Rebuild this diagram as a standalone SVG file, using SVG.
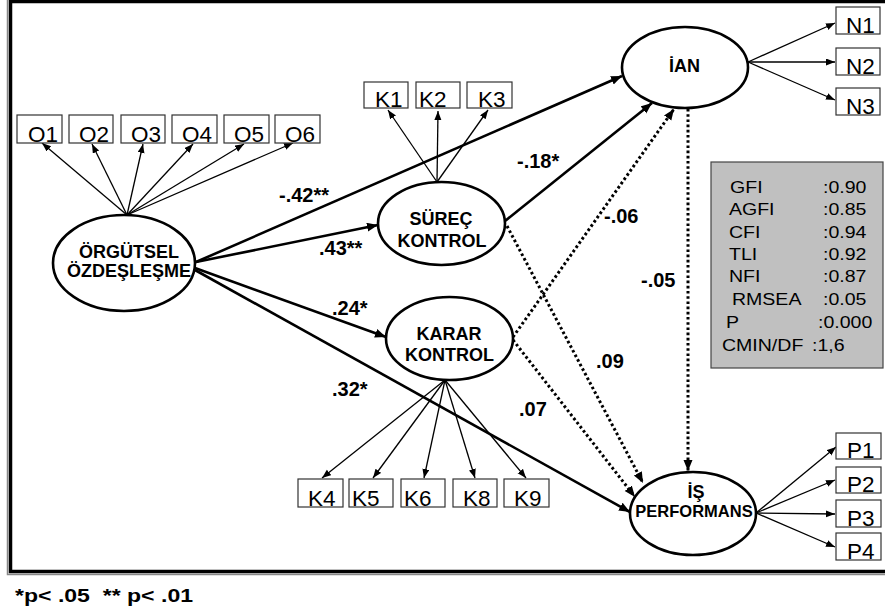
<svg xmlns="http://www.w3.org/2000/svg" width="885" height="614" viewBox="0 0 885 614">
<style>
.bx{fill:#fff;stroke:#333;stroke-width:1.2}
.bl{font-family:"Liberation Sans",Arial,sans-serif;font-size:22.5px;fill:#000}
.lv{fill:#fff;stroke:#000;stroke-width:2.6}
.lt{font-family:"Liberation Sans",Arial,sans-serif;font-weight:bold;font-size:18px;fill:#000;text-anchor:middle}
.ind{stroke:#000;stroke-width:1.3;fill:none;marker-end:url(#ah)}
.str{stroke:#000;stroke-width:2.6;fill:none}
.sa{marker-end:url(#AH)}
.dot{stroke:#000;stroke-width:3;fill:none;stroke-dasharray:2.6 2.6;marker-end:url(#AH)}
.el{font-family:"Liberation Sans",Arial,sans-serif;font-weight:bold;font-size:20px;fill:#000}
.ft{font-family:"Liberation Sans",Arial,sans-serif;font-size:17px;fill:#000}
</style>
<defs>
<marker id="ah" markerUnits="userSpaceOnUse" markerWidth="10" markerHeight="8" refX="9" refY="3.5" orient="auto"><path d="M0,0 L9,3.5 L0,7 z" fill="#000"/></marker>
<marker id="AH" markerUnits="userSpaceOnUse" markerWidth="12" markerHeight="10" refX="11" refY="4.5" orient="auto"><path d="M0,0 L11,4.5 L0,9 z" fill="#000"/></marker>
</defs>
<rect width="885" height="614" fill="#fff"/>
<g id="frame">
<path d="M7.5 0 V574.5 H900" stroke="#888" stroke-width="1.5" fill="none"/>
<path d="M900 1.5 H10.5 V571.5 H900" stroke="#000" stroke-width="3.5" fill="none"/>
</g>
<g id="connectors">
<line class="ind" x1="127" y1="215" x2="42" y2="143"/>
<line class="ind" x1="127" y1="215" x2="92" y2="144"/>
<line class="ind" x1="127" y1="215" x2="143" y2="144"/>
<line class="ind" x1="127" y1="215" x2="193" y2="144"/>
<line class="ind" x1="127" y1="215" x2="244" y2="144"/>
<line class="ind" x1="127" y1="215" x2="293" y2="143"/>
<line class="ind" x1="437" y1="182" x2="388" y2="110"/>
<line class="ind" x1="437" y1="182" x2="438" y2="111"/>
<line class="ind" x1="437" y1="182" x2="488" y2="110"/>
<line class="ind" x1="445" y1="380" x2="322" y2="478"/>
<line class="ind" x1="445" y1="380" x2="373" y2="478"/>
<line class="ind" x1="445" y1="380" x2="424" y2="478"/>
<line class="ind" x1="445" y1="380" x2="475" y2="478"/>
<line class="ind" x1="445" y1="380" x2="526" y2="478"/>
<line class="ind" x1="748" y1="62" x2="835" y2="23"/>
<line class="ind" x1="748" y1="62" x2="835" y2="62"/>
<line class="ind" x1="748" y1="62" x2="835" y2="100"/>
<line class="ind" x1="756" y1="513" x2="836" y2="447"/>
<line class="ind" x1="756" y1="513" x2="835" y2="480"/>
<line class="ind" x1="756" y1="513" x2="835" y2="514"/>
<line class="ind" x1="756" y1="513" x2="835" y2="547"/>
<line class="str sa" x1="196" y1="262" x2="622" y2="76"/>
<line class="str sa" x1="196" y1="262" x2="378" y2="225"/>
<line class="str sa" x1="195" y1="268" x2="386" y2="337"/>
<line class="str sa" x1="195" y1="270" x2="630" y2="512"/>
<line class="str sa" x1="505" y1="221" x2="652" y2="103"/>
<line class="dot" x1="507" y1="226" x2="643" y2="483"/>
<line class="dot" x1="513" y1="337" x2="674" y2="109"/>
<line class="dot" x1="513" y1="340" x2="635" y2="497"/>
<line class="dot" x1="688" y1="109" x2="688" y2="471"/>
</g>
<g id="O1"><rect class="bx" x="17" y="115" width="45" height="28"/><text class="bl" x="28" y="141.5">O1</text></g>
<g id="O2"><rect class="bx" x="69" y="115" width="44" height="28"/><text class="bl" x="79" y="141.5">O2</text></g>
<g id="O3"><rect class="bx" x="121" y="115" width="44" height="28"/><text class="bl" x="131" y="141.5">O3</text></g>
<g id="O4"><rect class="bx" x="172" y="115" width="45" height="28"/><text class="bl" x="182" y="141.5">O4</text></g>
<g id="O5"><rect class="bx" x="224" y="115" width="45" height="28"/><text class="bl" x="234" y="141.5">O5</text></g>
<g id="O6"><rect class="bx" x="275" y="115" width="45" height="28"/><text class="bl" x="285" y="141.5">O6</text></g>
<g id="K1"><rect class="bx" x="364" y="82" width="44" height="26"/><text class="bl" x="375" y="106.5">K1</text></g>
<g id="K2"><rect class="bx" x="416" y="82" width="44" height="26"/><text class="bl" x="419" y="106.5">K2</text></g>
<g id="K3"><rect class="bx" x="467" y="82" width="45" height="26"/><text class="bl" x="478" y="106.5">K3</text></g>
<g id="K4"><rect class="bx" x="298" y="479" width="45" height="28"/><text class="bl" x="308" y="505.5">K4</text></g>
<g id="K5"><rect class="bx" x="349" y="479" width="44" height="28"/><text class="bl" x="352" y="505.5">K5</text></g>
<g id="K6"><rect class="bx" x="401" y="479" width="44" height="28"/><text class="bl" x="404" y="505.5">K6</text></g>
<g id="K8"><rect class="bx" x="453" y="479" width="44" height="28"/><text class="bl" x="463" y="505.5">K8</text></g>
<g id="K9"><rect class="bx" x="504" y="479" width="45" height="28"/><text class="bl" x="514" y="505.5">K9</text></g>
<g id="N1"><rect class="bx" x="836" y="7" width="44" height="27"/><text class="bl" x="846" y="32.5">N1</text></g>
<g id="N2"><rect class="bx" x="836" y="48" width="44" height="27"/><text class="bl" x="846" y="73.5">N2</text></g>
<g id="N3"><rect class="bx" x="836" y="88" width="44" height="27"/><text class="bl" x="846" y="113.5">N3</text></g>
<g id="P1"><rect class="bx" x="836" y="433" width="45" height="26"/><text class="bl" x="847" y="457.5">P1</text></g>
<g id="P2"><rect class="bx" x="836" y="467" width="45" height="26"/><text class="bl" x="847" y="491.5">P2</text></g>
<g id="P3"><rect class="bx" x="836" y="500" width="45" height="27"/><text class="bl" x="847" y="525.5">P3</text></g>
<g id="P4"><rect class="bx" x="836" y="533" width="45" height="27"/><text class="bl" x="847" y="558.5">P4</text></g>
<g id="ORG"><ellipse class="lv" cx="124" cy="263" rx="71" ry="48"/><text class="lt" x="129" y="258">ÖRGÜTSEL</text><text class="lt" x="129" y="277">ÖZDEŞLEŞME</text></g>
<g id="SUREC"><ellipse class="lv" cx="441.5" cy="223.5" rx="63.5" ry="41.5"/><text class="lt" x="441" y="225">SÜREÇ</text><text class="lt" x="442" y="247">KONTROL</text></g>
<g id="KARAR"><ellipse class="lv" cx="449.5" cy="338.5" rx="63.5" ry="41.5"/><text class="lt" x="449" y="340">KARAR</text><text class="lt" x="449.5" y="361">KONTROL</text></g>
<g id="IAN"><ellipse class="lv" cx="685" cy="67.5" rx="63" ry="40.5"/><text class="lt" x="684.5" y="72">İAN</text></g>
<g id="IS"><ellipse class="lv" cx="693" cy="513.5" rx="63" ry="41.5"/><text class="lt" x="696" y="498">İŞ</text><text class="lt" x="694" y="517" style="font-size:16.5px">PERFORMANS</text></g>
<g id="labels">
<text class="el" x="279" y="202">-.42**</text>
<text class="el" x="319" y="255">.43**</text>
<text class="el" x="517" y="168">-.18*</text>
<text class="el" x="604" y="223">-.06</text>
<text class="el" x="332" y="315">.24*</text>
<text class="el" x="332" y="396">.32*</text>
<text class="el" x="519" y="416">.07</text>
<text class="el" x="596" y="368">.09</text>
<text class="el" x="641" y="287">-.05</text>
</g>
<g id="fit">
<rect x="711" y="162" width="172" height="206" fill="#c0c0c0" stroke="#444" stroke-width="1.2"/>
<g transform="scale(1.15,1)">
<text class="ft" x="634.8" y="193">GFI</text><text class="ft" x="715.7" y="193">:0.90</text>
<text class="ft" x="633.9" y="215">AGFI</text><text class="ft" x="715.7" y="215">:0.85</text>
<text class="ft" x="633.9" y="238">CFI</text><text class="ft" x="715.7" y="238">:0.94</text>
<text class="ft" x="633.9" y="260">TLI</text><text class="ft" x="715.7" y="260">:0.92</text>
<text class="ft" x="633.9" y="282">NFI</text><text class="ft" x="715.7" y="282">:0.87</text>
<text class="ft" x="636.5" y="305">RMSEA</text><text class="ft" x="715.7" y="305">:0.05</text>
<text class="ft" x="631.3" y="328">P</text><text class="ft" x="711.3" y="328">:0.000</text>
<text class="ft" x="627.8" y="351">CMIN/DF</text><text class="ft" x="706.1" y="351">:1,6</text>
</g>
</g>
<text x="15" y="602" xml:space="preserve" textLength="178" lengthAdjust="spacingAndGlyphs" style="font-family:'Liberation Sans',Arial,sans-serif;font-weight:bold;font-size:18px;white-space:pre">*p&lt; .05  ** p&lt; .01</text>
</svg>
